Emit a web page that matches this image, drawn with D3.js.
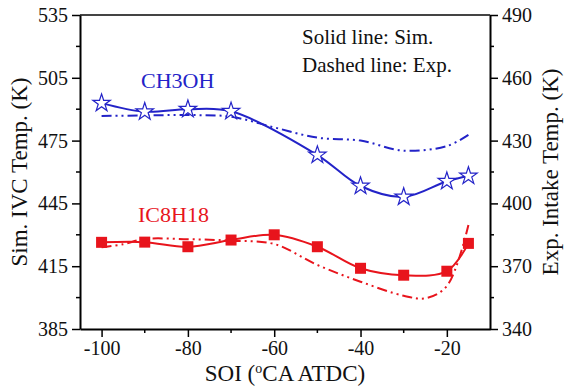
<!DOCTYPE html>
<html><head><meta charset="utf-8">
<script src="https://cdn.jsdelivr.net/npm/d3@7"></script>
<style>
html,body{margin:0;padding:0;background:#fff;}
svg, svg text{font-family:'Liberation Serif','DejaVu Serif','Times New Roman',Times,serif !important;}
</style></head>
<body>
<svg id="c" width="565" height="388"></svg>
<script>
// ---- data ----
const ch3ohSimX = [-100, -90, -80, -70, -50, -40, -30, -20, -15];
const ch3ohSim  = [492.9, 488.8, 490.0, 489.0, 468.1, 453.3, 448.1, 455.6, 458.1];
const ch3ohExpX = [-100, -90, -80, -70, -60, -50, -40, -30, -20, -15];
const ch3ohExp  = [441.8, 442.0, 442.2, 441.4, 436.3, 431.4, 430.0, 425.2, 427.4, 432.7];
const ic8h18SimX = [-100, -90, -80, -70, -60, -50, -40, -30, -20, -15];
const ic8h18Sim  = [426.4, 426.5, 424.3, 427.5, 430.0, 424.3, 414.0, 410.7, 412.6, 425.9];
const ic8h18ExpX = [-100, -95, -90, -80, -70, -60, -50, -40, -30, -25, -20, -15];
const ic8h18Exp  = [379.0, 380.5, 383.0, 382.9, 382.2, 380.6, 370.6, 362.6, 355.9, 354.7, 360.5, 389.7];
const xTicks = [-100, -80, -60, -40, -20];
const xMinor = [-90, -70, -50, -30];
const yLeftTicks = [385, 415, 445, 475, 505, 535];
const yRightTicks = [340, 370, 400, 430, 460, 490];

const FONT = "'Liberation Serif','DejaVu Serif','Times New Roman',Times,serif";
const BLUE = "#2323c8", RED = "#e8141c";
const svg = d3.select("#c").attr("font-family", FONT);
const L = 80, R = 490, T = 15, B = 329;
const x = d3.scaleLinear().domain([-105, -10]).range([L, R]);
const yL = d3.scaleLinear().domain([385, 535]).range([B, T]);
const yR = d3.scaleLinear().domain([340, 490]).range([B, T]);

// top frame line
svg.append("line").attr("x1", L).attr("x2", R).attr("y1", T).attr("y2", T)
  .attr("stroke", "#444").attr("stroke-width", 2);

function styleAxis(g) {
  g.attr("font-family", FONT);
  g.select(".domain").attr("stroke", "#000").attr("stroke-width", 2);
  g.selectAll(".tick line").attr("stroke", "#000").attr("stroke-width", 1.5);
  g.selectAll(".tick text").attr("font-size", 20).attr("fill", "#111")
    .attr("font-family", FONT);
}
function minor(g, vals, scale, orient) {
  vals.forEach(v => {
    const p = scale(v);
    if (orient === "bottom") g.append("line").attr("x1", p).attr("x2", p).attr("y1", B).attr("y2", B + 4);
    if (orient === "left") g.append("line").attr("x1", L).attr("x2", L - 4).attr("y1", p).attr("y2", p);
    if (orient === "right") g.append("line").attr("x1", R).attr("x2", R + 4).attr("y1", p).attr("y2", p);
  });
  g.selectAll("line").attr("stroke", "#000").attr("stroke-width", 1.5);
}

const gx = svg.append("g").attr("transform", `translate(0,${B})`)
  .call(d3.axisBottom(x).tickValues(xTicks).tickSize(8).tickSizeOuter(0).tickPadding(4).tickFormat(d => String(d)));
styleAxis(gx);
const gyl = svg.append("g").attr("transform", `translate(${L},0)`)
  .call(d3.axisLeft(yL).tickValues(yLeftTicks).tickSize(8).tickSizeOuter(0).tickPadding(4));
styleAxis(gyl);
const gyr = svg.append("g").attr("transform", `translate(${R},0)`)
  .call(d3.axisRight(yR).tickValues(yRightTicks).tickSize(8).tickSizeOuter(0).tickPadding(4));
styleAxis(gyr);

minor(svg.append("g"), xMinor, x, "bottom");
minor(svg.append("g"), yLeftTicks.slice(0, -1).map(v => v + 15), yL, "left");
minor(svg.append("g"), yRightTicks.slice(0, -1).map(v => v + 15), yR, "right");

// axis titles
svg.append("text").attr("x", (L + R) / 2).attr("y", 381).attr("text-anchor", "middle")
  .attr("font-size", 23).attr("fill", "#111")
  .html('SOI (<tspan dy="-8" font-size="14">o</tspan><tspan dy="8">CA ATDC)</tspan>');
svg.append("text").attr("transform", `translate(27,${(T + B) / 2}) rotate(-90)`)
  .attr("text-anchor", "middle").attr("font-size", 23).attr("fill", "#111")
  .text("Sim. IVC Temp. (K)");
svg.append("text").attr("transform", `translate(558,${(T + B) / 2}) rotate(-90)`)
  .attr("text-anchor", "middle").attr("font-size", 23).attr("fill", "#111")
  .text("Exp. Intake Temp. (K)");

// lines
const DASH = "10,4,2,4,2,4";
function drawLine(xs, ys, yScale, color, dashed) {
  const pts = xs.map((v, i) => [x(v), yScale(ys[i])]);
  svg.append("path").attr("d", d3.line().curve(d3.curveCatmullRom.alpha(0.5))(pts))
    .attr("fill", "none").attr("stroke", color).attr("stroke-width", 2)
    .attr("stroke-dasharray", dashed ? DASH : null);
  return pts;
}
drawLine(ch3ohExpX, ch3ohExp, yR, BLUE, true);
drawLine(ic8h18ExpX, ic8h18Exp, yR, RED, true);
const bPts = drawLine(ch3ohSimX, ch3ohSim, yL, BLUE, false);
const rPts = drawLine(ic8h18SimX, ic8h18Sim, yL, RED, false);

// markers
const star = d3.symbol().type(d3.symbolStar).size(95);
svg.append("g").selectAll("path").data(bPts).join("path")
  .attr("transform", d => `translate(${d[0]},${d[1]})`).attr("d", star)
  .attr("fill", "#fff").attr("stroke", BLUE).attr("stroke-width", 1.2);
svg.append("g").selectAll("rect").data(rPts).join("rect")
  .attr("x", d => d[0] - 5.5).attr("y", d => d[1] - 5.5).attr("width", 11).attr("height", 11)
  .attr("fill", RED);

// labels
svg.append("text").attr("x", 141).attr("y", 88).attr("font-size", 22).attr("fill", BLUE).text("CH3OH");
svg.append("text").attr("x", 138).attr("y", 222).attr("font-size", 22).attr("fill", RED).text("IC8H18");
svg.append("text").attr("x", 302).attr("y", 44).attr("font-size", 21).attr("fill", "#111").text("Solid line: Sim.");
svg.append("text").attr("x", 302).attr("y", 72).attr("font-size", 21).attr("fill", "#111").text("Dashed line: Exp.");
</script>
</body></html>
